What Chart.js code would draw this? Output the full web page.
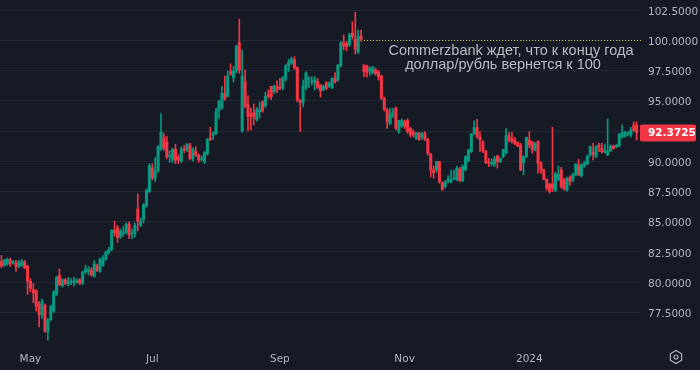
<!DOCTYPE html>
<html>
<head>
<meta charset="utf-8">
<script src="https://cdn.jsdelivr.net/npm/chart.js@4.4.0/dist/chart.umd.min.js"></script>
<style>
  html, body { margin: 0; padding: 0; background: #161a25; }
  #wrap { width: 700px; height: 370px; }
</style>
</head>
<body>
<div id="wrap"><canvas id="chart"></canvas></div>
<script>
// USD/RUB daily candles, Apr 2023 – Feb 2024
const opens = [
  81.7, 81.4, 81.5, 81.85, 81.6, 81.6, 81.3, 81.4, 81.7, 81.35,
  80.1, 79.4, 79.3, 78.2, 77.3, 78.1, 75.9, 76.9, 77.6, 79.0,
  80.6, 79.7, 80.2, 79.9, 80.0, 80.0, 80.0, 80.2, 79.9, 80.85,
  80.9, 81.0, 80.5, 81.35, 80.9, 81.4, 81.9, 82.45, 82.7, 84.3,
  84.5, 83.75, 84.0, 84.1, 84.8, 84.0, 84.0, 86.05, 84.7, 85.2,
  86.3, 87.5, 89.45, 88.55, 89.2, 91.0, 91.95, 91.6, 90.4, 90.15,
  91.0, 90.35, 90.0, 91.0, 90.95, 91.3, 90.2, 90.8, 90.5, 90.15,
  90.0, 90.6, 91.95, 92.15, 92.3, 94.2, 94.4, 95.6, 95.4, 97.4,
  96.9, 97.45, 99.8, 92.53, 96.6, 94.7, 93.97, 94.0, 93.45, 94.1,
  94.9, 94.57, 95.5, 96.2, 95.75, 96.2, 96.1, 96.05, 96.77, 97.87,
  98.1, 98.4, 97.75, 95.07, 94.85, 96.1, 96.75, 96.55, 96.5, 96.6,
  96.3, 95.9, 96.45, 96.2, 96.1, 96.86, 96.72, 97.88, 99.8, 99.75,
  99.61, 100.58, 100.08, 99.06, 100.36, 97.95, 97.85, 97.45, 97.33, 97.55,
  97.4, 97.05, 95.2, 94.24, 93.14, 93.9, 94.38, 92.45, 92.9, 93.27,
  93.36, 92.72, 92.45, 91.9, 92.3, 91.98, 92.3, 91.8, 90.6, 89.28,
  89.28, 89.97, 88.23, 87.9, 88.35, 88.3, 88.5, 88.45, 89.35, 88.4,
  89.28, 90.05, 90.79, 92.25, 92.78, 92.03, 91.6, 90.85, 89.9, 89.8,
  89.77, 90.45, 89.97, 90.38, 90.66, 92.1, 91.9, 91.76, 91.55, 91.34,
  89.88, 90.38, 91.76, 91.62, 90.93, 91.62, 89.9, 89.3, 88.5, 88.1,
  88.12, 87.57, 88.45, 89.3, 88.45, 87.63, 88.67, 88.45, 88.87, 89.69,
  88.78, 89.61, 89.77, 90.52, 90.72, 90.43, 91.34, 91.07, 90.74, 90.52,
  90.85, 91.26, 91.2, 91.26, 92.03, 92.06, 92.23, 92.17, 92.99, 92.99
];
const highs = [
  82.2, 81.9, 82.0, 82.0, 81.8, 81.8, 81.8, 81.9, 81.8, 81.4,
  80.3, 79.9, 79.4, 78.4, 78.6, 78.2, 77.0, 78.1, 79.3, 80.5,
  81.1, 80.3, 80.3, 80.4, 80.3, 80.4, 80.3, 80.3, 80.9, 81.4,
  81.3, 81.2, 81.8, 81.5, 82.0, 82.2, 82.6, 82.9, 84.35, 85.05,
  84.7, 84.4, 84.6, 84.9, 85.0, 84.4, 84.9, 87.3, 85.3, 86.5,
  87.7, 89.8, 89.8, 90.3, 91.3, 93.95, 92.3, 92.05, 90.9, 91.1,
  91.4, 90.55, 91.2, 91.3, 91.5, 91.5, 91.1, 91.2, 90.6, 90.45,
  90.8, 91.9, 92.8, 92.45, 94.4, 95.05, 96.2, 97.05, 97.45, 98.05,
  97.85, 99.6, 101.76, 99.2, 97.55, 95.4, 94.4, 94.73, 94.45, 94.9,
  95.0, 95.7, 95.9, 96.2, 96.3, 96.64, 96.85, 97.0, 98.0, 98.45,
  98.6, 98.65, 97.8, 95.1, 96.7, 97.4, 97.0, 97.0, 97.0, 96.85,
  96.35, 96.3, 96.6, 96.55, 96.9, 97.33, 98.0, 99.9, 100.44, 99.9,
  100.58, 101.54, 102.31, 100.85, 100.85, 97.98, 97.95, 97.82, 97.85, 97.7,
  97.5, 97.1, 95.3, 94.4, 94.4, 94.4, 94.5, 93.4, 93.5, 93.4,
  93.5, 92.8, 92.6, 92.4, 92.4, 92.4, 92.45, 91.9, 90.66, 89.6,
  90.0, 90.0, 88.3, 88.4, 88.8, 89.28, 89.28, 89.6, 89.5, 89.7,
  90.45, 91.0, 92.3, 93.35, 93.47, 92.45, 91.7, 90.9, 90.24, 90.2,
  90.4, 90.5, 90.3, 91.0, 92.7, 92.4, 92.4, 91.98, 91.6, 91.48,
  90.45, 92.0, 92.45, 91.62, 91.55, 91.7, 89.95, 89.35, 88.55, 88.2,
  92.8, 89.1, 89.6, 89.5, 88.6, 88.7, 88.8, 89.0, 89.8, 90.16,
  89.8, 90.0, 90.52, 91.25, 91.48, 91.3, 91.5, 91.48, 91.43, 93.49,
  91.35, 91.34, 91.4, 92.3, 92.99, 92.5, 92.45, 92.8, 93.27, 93.27
];
const lows = [
  81.2, 81.3, 81.4, 81.3, 81.5, 80.9, 81.2, 81.3, 81.1, 79.0,
  79.2, 78.3, 77.6, 76.3, 77.0, 75.85, 75.2, 76.8, 77.5, 78.9,
  79.7, 79.6, 79.8, 79.7, 79.8, 79.7, 79.9, 79.8, 79.8, 80.7,
  80.6, 80.5, 80.4, 80.9, 80.8, 81.3, 81.8, 82.3, 82.6, 83.8,
  83.3, 83.6, 83.8, 84.0, 83.6, 83.6, 83.7, 84.25, 84.6, 84.9,
  86.2, 87.4, 88.45, 88.3, 89.1, 90.9, 90.9, 90.2, 89.9, 89.9,
  89.8, 89.8, 89.9, 90.7, 90.8, 90.1, 90.0, 90.4, 89.9, 90.0,
  89.8, 90.5, 91.7, 91.8, 92.2, 93.55, 94.3, 95.05, 95.3, 97.1,
  96.55, 97.3, 97.27, 92.4, 94.4, 92.5, 92.6, 93.0, 93.3, 93.55,
  94.05, 94.45, 95.2, 95.1, 95.6, 95.67, 95.9, 95.9, 96.6, 97.4,
  98.0, 97.6, 94.9, 92.45, 94.5, 95.9, 96.1, 96.3, 95.9, 96.0,
  95.3, 95.85, 95.9, 96.1, 96.0, 96.45, 96.6, 97.8, 99.2, 99.14,
  99.5, 100.1, 98.87, 98.9, 99.9, 97.0, 96.95, 97.1, 97.2, 97.1,
  96.7, 95.1, 94.15, 92.72, 93.0, 93.6, 92.6, 92.3, 92.8, 92.7,
  92.3, 92.0, 92.0, 91.8, 91.7, 91.8, 91.7, 90.5, 88.7, 88.6,
  89.1, 88.18, 87.6, 87.8, 88.2, 88.2, 88.5, 88.4, 88.3, 88.3,
  89.2, 89.95, 90.7, 92.2, 91.9, 90.8, 90.7, 89.8, 89.55, 89.6,
  89.55, 89.42, 89.9, 90.3, 90.6, 91.6, 91.5, 91.35, 91.2, 89.22,
  88.87, 90.3, 91.1, 90.66, 90.85, 89.0, 89.0, 88.45, 87.6, 87.35,
  87.49, 87.5, 88.4, 87.76, 87.6, 87.5, 88.0, 88.3, 88.8, 88.8,
  88.7, 89.5, 89.7, 90.4, 90.1, 90.3, 90.8, 90.66, 90.7, 90.45,
  90.8, 90.98, 91.1, 91.2, 91.9, 92.0, 92.1, 92.0, 92.45, 91.76
];
const closes = [
  81.35, 81.8, 81.9, 81.5, 81.7, 81.3, 81.6, 81.7, 81.2, 80.1,
  79.5, 79.1, 78.0, 77.3, 78.4, 75.95, 76.9, 78.0, 79.2, 80.4,
  79.8, 80.2, 79.9, 80.1, 80.1, 80.05, 80.1, 79.95, 80.85, 81.1,
  81.0, 80.6, 81.5, 80.95, 81.9, 82.0, 82.5, 82.7, 84.3, 84.1,
  83.7, 84.2, 84.1, 84.8, 83.9, 84.1, 84.7, 85.05, 85.05, 86.4,
  87.6, 89.65, 88.6, 89.2, 91.2, 92.4, 91.1, 90.35, 90.45, 90.98,
  90.1, 90.1, 91.0, 90.9, 91.4, 90.2, 91.0, 90.5, 90.1, 90.2,
  90.7, 91.8, 91.8, 92.35, 94.1, 94.95, 95.6, 95.15, 97.05, 97.2,
  97.45, 99.5, 97.55, 97.05, 94.57, 93.7, 93.7, 93.65, 94.24, 94.25,
  94.15, 95.35, 95.35, 95.35, 96.22, 95.9, 96.05, 96.9, 97.87, 98.18,
  98.45, 97.75, 95.07, 94.85, 96.2, 97.3, 96.85, 96.6, 96.75, 96.1,
  95.8, 96.2, 96.03, 96.45, 96.86, 96.58, 97.96, 99.8, 99.53, 99.47,
  100.44, 100.3, 99.25, 100.36, 100.08, 97.4, 97.33, 97.68, 97.74, 97.27,
  97.0, 95.2, 94.3, 93.27, 93.9, 94.0, 92.72, 93.36, 93.36, 92.9,
  92.45, 92.17, 92.17, 92.3, 91.8, 92.3, 91.8, 90.66, 89.28, 89.06,
  89.97, 88.31, 87.68, 88.31, 88.5, 88.45, 88.6, 89.42, 88.4, 89.55,
  90.38, 90.93, 92.25, 92.78, 92.03, 91.76, 90.85, 89.9, 89.85, 89.9,
  90.2, 89.97, 90.24, 90.93, 92.13, 91.76, 91.62, 91.48, 91.25, 89.28,
  90.38, 91.98, 91.34, 90.93, 91.48, 89.83, 89.28, 88.5, 87.76, 87.49,
  87.76, 88.95, 88.95, 87.9, 87.68, 88.59, 88.31, 88.87, 89.77, 88.87,
  89.69, 89.88, 90.43, 91.2, 90.6, 91.15, 91.15, 90.79, 90.88, 90.85,
  91.26, 91.07, 91.3, 92.23, 92.36, 92.36, 92.36, 92.58, 92.58, 92.3725
];

const yTicks = [77.5, 80, 82.5, 85, 87.5, 90, 92.5, 95, 97.5, 100, 102.5];
const monthTickIdx = [10, 52, 96, 139, 182];
const monthTickLabels = ['May', 'Jul', 'Sep', 'Nov', '2024'];

const noteLines = ['Commerzbank ждет, что к концу года', 'доллар/рубль вернется к 100'];
const noteLevel = 100;
const noteStartIdx = 125;

const UP = '#089981';
const DOWN = '#f23645';
const GRID = '#242835';
const TEXT = '#b2b5be';
const FONT = '"DejaVu Sans", sans-serif';

// one empty slot at the right like the chart's right margin
const categories = opens.map((_, i) => String(i)).concat(['']);
const candleColors = opens.map((o, i) => (closes[i] >= o ? UP : DOWN));
const lastPrice = closes[closes.length - 1];

const overlay = {
  id: 'overlay',
  afterDatasetsDraw(chart) {
    const { ctx, chartArea, scales } = chart;
    const y = scales.y.getPixelForValue(noteLevel);
    const x0 = scales.x.getPixelForValue(noteStartIdx);
    ctx.save();
    ctx.strokeStyle = '#d9bd2e';
    ctx.lineWidth = 1;
    ctx.setLineDash([1, 2]);
    ctx.beginPath();
    ctx.moveTo(x0, Math.round(y) + 0.5);
    ctx.lineTo(chartArea.right, Math.round(y) + 0.5);
    ctx.stroke();
    ctx.setLineDash([]);

    ctx.fillStyle = '#b9bcc4';
    ctx.font = '14.5px "Liberation Sans", Arial, sans-serif';
    ctx.textAlign = 'center';
    ctx.textBaseline = 'middle';
    ctx.fillText(noteLines[0], 511, 51);
    ctx.fillText(noteLines[1], 503, 65);
    ctx.restore();
  },
  afterDraw(chart) {
    const { ctx, scales, chartArea } = chart;
    // last price tag on the price scale
    const y = scales.y.getPixelForValue(lastPrice);
    ctx.save();
    ctx.fillStyle = DOWN;
    ctx.beginPath();
    ctx.roundRect(chartArea.right - 1, y - 8, 56, 17, 2);
    ctx.fill();
    ctx.fillStyle = '#ffffff';
    ctx.font = 'bold 10.5px ' + FONT;
    ctx.textAlign = 'left';
    ctx.textBaseline = 'middle';
    ctx.fillText(lastPrice.toFixed(4), chartArea.right + 7, y + 1);

    // settings icon bottom right
    const cx = 676, cy = 357, r = 6.5;
    ctx.strokeStyle = TEXT;
    ctx.lineWidth = 1.2;
    ctx.beginPath();
    for (let k = 0; k < 6; k++) {
      const a = Math.PI / 6 + k * Math.PI / 3;
      const px = cx + r * Math.cos(a), py = cy + r * Math.sin(a);
      if (k === 0) ctx.moveTo(px, py); else ctx.lineTo(px, py);
    }
    ctx.closePath();
    ctx.stroke();
    ctx.beginPath();
    ctx.arc(cx, cy, 2, 0, Math.PI * 2);
    ctx.stroke();
    ctx.restore();
  }
};

new Chart(document.getElementById('chart'), {
  type: 'bar',
  data: {
    labels: categories,
    datasets: [
      {
        label: 'wick',
        data: lows.map((l, i) => [l, highs[i]]),
        backgroundColor: candleColors,
        barThickness: 1,
        grouped: false,
        borderWidth: 0,
        order: 2
      },
      {
        label: 'body',
        data: opens.map((o, i) => [o, closes[i]]),
        backgroundColor: candleColors,
        barThickness: 2.4,
        minBarLength: 1,
        grouped: false,
        borderWidth: 0,
        order: 1
      }
    ]
  },
  options: {
    responsive: true,
    maintainAspectRatio: false,
    animation: false,
    layout: { padding: 0 },
    plugins: {
      legend: { display: false },
      tooltip: { enabled: false }
    },
    scales: {
      x: {
        grid: {
          offset: false,
          color: ctx => (monthTickIdx.includes(ctx.index) ? GRID : 'rgba(0,0,0,0)'),
          tickLength: 4
        },
        border: { display: false },
        ticks: {
          autoSkip: false,
          maxRotation: 0,
          padding: 8,
          color: TEXT,
          font: { family: FONT, size: 10.5 },
          callback: (v, i) => {
            const k = monthTickIdx.indexOf(i);
            return k >= 0 ? monthTickLabels[k] : null;
          }
        },
        afterFit: scale => { scale.height = 29; scale.paddingLeft = 0; scale.paddingRight = 0; }
      },
      y: {
        position: 'right',
        min: 75.14,
        max: 103.33,
        grid: { color: GRID, drawTicks: false },
        border: { display: false },
        afterBuildTicks: scale => { scale.ticks = yTicks.map(v => ({ value: v })); },
        ticks: {
          padding: 7,
          labelOffset: 2,
          color: TEXT,
          font: { family: FONT, size: 10.5 },
          callback: v => Number(v).toFixed(4)
        },
        afterFit: scale => { scale.width = 59; scale.paddingTop = 0; scale.paddingBottom = 0; }
      }
    }
  },
  plugins: [overlay]
});
</script>
</body>
</html>
